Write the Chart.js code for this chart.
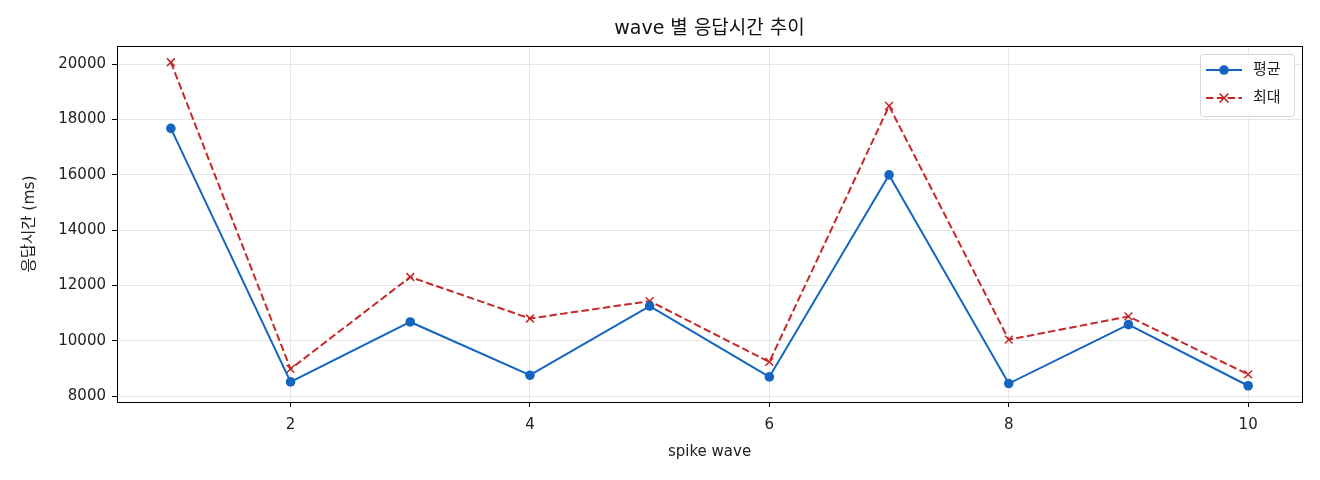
<!DOCTYPE html>
<html><head><meta charset="utf-8">
<script src="https://cdn.jsdelivr.net/npm/chart.js@4"></script>
<style>html,body{margin:0;padding:0;background:#fff;}#wrap{width:1320px;height:480px;}</style>
</head><body><div id="wrap"><canvas id="c"></canvas></div>
<script>
const waves = [1, 2, 3, 4, 5, 6, 7, 8, 9, 10];
const avgMs = [17680, 8520, 10685, 8760, 11260, 8700, 16000, 8460, 10590, 8380];
const maxMs = [20070, 8990, 12310, 10810, 11440, 9240, 18490, 10045, 10885, 8790];
const xTicks = [2, 4, 6, 8, 10];
const yTicks = [8000, 10000, 12000, 14000, 16000, 18000, 20000];
const seriesLabels = ['평균', '최대'];
const titleText = 'wave 별 응답시간 추이';
const xTitle = 'spike wave';
const yTitle = '응답시간 (ms)';

const FONT = "'DejaVu Sans', 'Noto Sans CJK KR', sans-serif";
const BLUE = '#1565C0', RED = '#C62828';

const areaTitle = {
  id: 'areaTitle',
  afterDraw(chart, args, opts) {
    const {ctx, chartArea: a} = chart;
    ctx.save();
    ctx.fillStyle = '#111';
    ctx.font = opts.size + 'px ' + FONT;
    ctx.textAlign = 'center';
    ctx.textBaseline = 'middle';
    ctx.fillText(opts.text, (a.left + a.right) / 2, opts.y);
    ctx.restore();
  }
};

const spines = {
  id: 'spines',
  afterDraw(chart) {
    const {ctx, chartArea: a} = chart;
    ctx.save();
    ctx.strokeStyle = '#000';
    ctx.lineWidth = 1;
    ctx.strokeRect(Math.round(a.left) + 0.5, Math.round(a.top) + 0.5, Math.round(a.right - a.left), Math.round(a.bottom - a.top));
    ctx.restore();
  }
};

const mplLegend = {
  id: 'mplLegend',
  afterDraw(chart) {
    const {ctx, chartArea: a} = chart;
    const ds = chart.data.datasets;
    const bx = a.right - 102, by = a.top + 8, bw = 94, bh = 62;
    ctx.save();
    ctx.beginPath();
    ctx.roundRect(bx + 0.5, by + 0.5, bw, bh, 3);
    ctx.fillStyle = 'rgba(255,255,255,0.85)';
    ctx.fill();
    ctx.strokeStyle = '#d6d6d6';
    ctx.lineWidth = 1;
    ctx.stroke();
    ds.forEach((d, i) => {
      const y = by + 16 + i * 28;
      const x0 = bx + 6, x1 = bx + 42, xm = (x0 + x1) / 2;
      ctx.beginPath();
      ctx.setLineDash(d.borderDash || []);
      ctx.strokeStyle = d.borderColor;
      ctx.lineWidth = d.borderWidth;
      ctx.moveTo(x0, y); ctx.lineTo(x1, y);
      ctx.stroke();
      ctx.setLineDash([]);
      if (d.pointStyle === 'circle') {
        ctx.beginPath();
        ctx.arc(xm, y, d.pointRadius, 0, Math.PI * 2);
        ctx.fillStyle = d.pointBackgroundColor;
        ctx.fill();
      } else {
        const r = d.pointRadius * 0.8;
        ctx.beginPath();
        ctx.strokeStyle = d.pointBorderColor;
        ctx.lineWidth = d.pointBorderWidth;
        ctx.moveTo(xm - r, y - r); ctx.lineTo(xm + r, y + r);
        ctx.moveTo(xm - r, y + r); ctx.lineTo(xm + r, y - r);
        ctx.stroke();
      }
      ctx.fillStyle = '#222';
      ctx.font = '15px ' + FONT;
      ctx.textBaseline = 'middle';
      ctx.textAlign = 'left';
      ctx.fillText(d.label, bx + 53, y);
    });
    ctx.restore();
  }
};

new Chart(document.getElementById('c'), {
  type: 'line',
  data: {
    datasets: [
      {
        label: seriesLabels[0],
        data: waves.map((w, i) => ({x: w, y: avgMs[i]})),
        borderColor: BLUE, backgroundColor: BLUE,
        borderWidth: 2, pointStyle: 'circle', pointRadius: 4.8,
        pointBackgroundColor: BLUE, pointBorderColor: BLUE, pointBorderWidth: 0,
        tension: 0, fill: false
      },
      {
        label: seriesLabels[1],
        data: waves.map((w, i) => ({x: w, y: maxMs[i]})),
        borderColor: RED, backgroundColor: RED,
        borderWidth: 2, borderDash: [7.5, 3.3], pointStyle: 'crossRot', pointRadius: 5.5,
        pointBackgroundColor: RED, pointBorderColor: RED, pointBorderWidth: 1.5,
        tension: 0, fill: false
      }
    ]
  },
  options: {
    responsive: true,
    maintainAspectRatio: false,
    animation: false,
    devicePixelRatio: 1,
    layout: {padding: {left: 0, right: 18, top: 46, bottom: 0}},
    plugins: {
      legend: {display: false},
      tooltip: {enabled: false},
      title: {display: false},
      areaTitle: {text: titleText, size: 19, y: 29}
    },
    scales: {
      x: {
        type: 'linear', min: 0.55, max: 10.45,
        afterBuildTicks: s => { s.ticks = xTicks.map(v => ({value: v})); },
        afterFit: s => { s.height = 78; },
        grid: {color: '#e6e6e6', lineWidth: 1, tickLength: 5, tickColor: '#000', drawTicks: true},
        border: {display: true, color: '#000', width: 1},
        ticks: {color: '#222', font: {family: FONT, size: 15}, padding: 9, maxRotation: 0, autoSkip: false},
        title: {display: true, text: xTitle, color: '#222', font: {family: FONT, size: 15}, padding: {top: 0, bottom: 19}}
      },
      y: {
        type: 'linear', min: 7793, max: 20657,
        afterBuildTicks: s => { s.ticks = yTicks.map(v => ({value: v})); },
        afterFit: s => { s.width = 117; },
        grid: {color: '#e6e6e6', lineWidth: 1, tickLength: 5, tickColor: '#000', drawTicks: true},
        border: {display: true, color: '#000', width: 1},
        ticks: {color: '#222', font: {family: FONT, size: 15}, padding: 6, autoSkip: false, callback: v => String(v)},
        title: {display: true, text: yTitle, color: '#222', font: {family: FONT, size: 15.5}, padding: {top: 20.5, bottom: 0}}
      }
    }
  },
  plugins: [spines, mplLegend, areaTitle]
});
</script>
</body></html>
